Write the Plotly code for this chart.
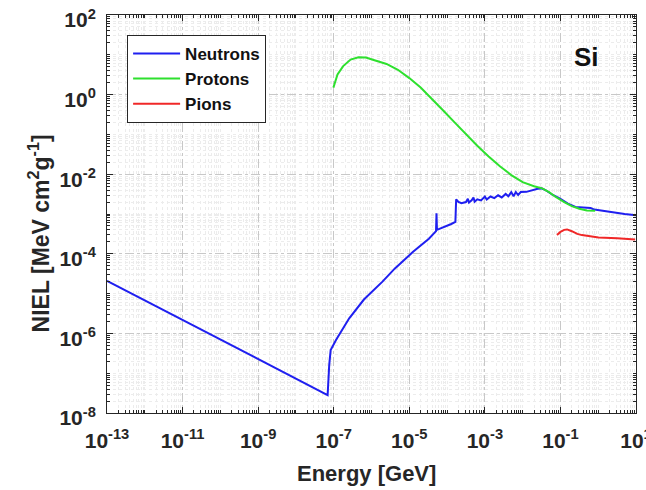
import plotly.graph_objects as go

# ---------------- data ----------------
neutron_E = [1e-13, 6.9e-8, 7.6e-8, 8.3e-8, 1.15e-7, 2.57e-7, 6.3e-7, 1.95e-6, 4.17e-6,
             1.26e-5, 3.3e-5, 5.1e-5, 5.25e-5, 5.4e-5, 1.29e-4, 1.66e-4, 1.74e-4, 2.0e-4,
             2.4e-4, 3.16e-4, 3.55e-4, 3.8e-4, 4.47e-4, 5.0e-4, 5.37e-4, 6.3e-4, 7.9e-4,
             1.0e-3, 1.12e-3, 1.41e-3, 1.78e-3, 2.24e-3, 2.8e-3, 3.55e-3, 4.2e-3, 5.0e-3,
             5.75e-3, 6.6e-3, 7.6e-3, 8.9e-3, 1.26e-2, 1.78e-2, 2.5e-2, 3.16e-2, 4.0e-2,
             6.3e-2, 0.1, 0.158, 0.25, 0.4, 0.63, 0.79, 2.0, 5.0, 10.0]
neutron_NIEL = [2.1e-5, 2.82e-8, 1.6e-7, 3.8e-7, 6.8e-7, 2.4e-6, 7.1e-6, 2.0e-5, 4.3e-5,
                1.12e-4, 2.4e-4, 3.7e-4, 1.05e-3, 4.0e-4, 5.6e-4, 6.3e-4, 2.34e-3, 2.0e-3,
                1.86e-3, 2.0e-3, 2.4e-3, 1.95e-3, 2.2e-3, 2.6e-3, 2.04e-3, 2.34e-3, 2.2e-3,
                2.75e-3, 2.3e-3, 2.75e-3, 2.5e-3, 2.95e-3, 2.6e-3, 3.2e-3, 2.8e-3, 3.55e-3,
                2.8e-3, 3.55e-3, 3.0e-3, 3.55e-3, 3.6e-3, 4.0e-3, 4.3e-3, 4.4e-3, 4.0e-3,
                3.0e-3, 2.4e-3, 1.82e-3, 1.5e-3, 1.45e-3, 1.41e-3, 1.29e-3, 1.12e-3, 1.0e-3, 9.3e-4]

proton_E = [9.8e-8, 1.26e-7, 1.78e-7, 2.8e-7, 4.5e-7, 7.1e-7, 1.26e-6, 2.5e-6, 5.0e-6,
            1e-5, 2.0e-5, 4.0e-5, 7.9e-5, 1.58e-4, 3.16e-4, 6.3e-4, 1.26e-3, 2.5e-3,
            5.0e-3, 1e-2, 2.0e-2, 3.3e-2, 5.0e-2, 7.9e-2, 0.126, 0.2, 0.316, 0.5, 0.83]
proton_NIEL = [1.5, 3.2, 5.2, 7.6, 8.7, 8.5, 7.2, 5.9, 4.2,
               2.6, 1.5, 0.79, 0.40, 0.20, 0.10, 0.052, 0.028, 0.0158,
               9.5e-3, 6.3e-3, 5.0e-3, 4.4e-3, 3.55e-3, 2.6e-3, 2.0e-3, 1.58e-3, 1.35e-3, 1.23e-3, 1.2e-3]

pion_E = [8.1e-2, 0.1, 0.126, 0.15, 0.2, 0.28, 0.37, 0.63, 1.02, 3.16, 9.5]
pion_NIEL = [2.95e-4, 3.55e-4, 4.0e-4, 4.1e-4, 3.7e-4, 3.16e-4, 2.95e-4, 2.75e-4, 2.57e-4, 2.45e-4, 2.3e-4]

x_ticks = [1e-13, 1e-11, 1e-9, 1e-7, 1e-5, 1e-3, 1e-1, 1e1]
x_labels = ["10<sup>-13</sup>", "10<sup>-11</sup>", "10<sup>-9</sup>", "10<sup>-7</sup>",
            "10<sup>-5</sup>", "10<sup>-3</sup>", "10<sup>-1</sup>", "10<sup>1</sup>"]
y_ticks = [1e-8, 1e-6, 1e-4, 1e-2, 1e0, 1e2]
y_labels = ["10<sup>-8</sup>", "10<sup>-6</sup>", "10<sup>-4</sup>", "10<sup>-2</sup>",
            "10<sup>0</sup>", "10<sup>2</sup>"]

# minor grid positions (2..9 in each decade plus odd decades)
x_minor = [k * 10.0 ** d for d in range(-13, 1) for k in range(1, 10)
           if not (k == 1 and (d + 13) % 2 == 0)]
y_minor = [k * 10.0 ** d for d in range(-8, 2) for k in range(1, 10)
           if not (k == 1 and (d + 8) % 2 == 0)]

FONT = "Liberation Sans, Arial, Helvetica, sans-serif"
TXT = "#262626"

fig = go.Figure()
fig.add_trace(go.Scatter(x=neutron_E, y=neutron_NIEL, mode="lines", name="Neutrons",
                         line=dict(color="#1f1ff0", width=2)))
fig.add_trace(go.Scatter(x=proton_E, y=proton_NIEL, mode="lines", name="Protons",
                         line=dict(color="#2ee02e", width=2)))
fig.add_trace(go.Scatter(x=pion_E, y=pion_NIEL, mode="lines", name="Pions",
                         line=dict(color="#f02828", width=2)))

axis_common = dict(
    showline=True, linecolor="#262626", linewidth=1, mirror="allticks",
    ticks="inside", ticklen=6, tickcolor="#262626",
    showgrid=True, gridcolor="#c8c8c8", griddash="dashdot", gridwidth=1,
    zeroline=False, automargin=False, ticklabeloverflow="allow",
    tickfont=dict(family=FONT, size=21, color=TXT, weight="bold"),
    minor=dict(tickmode="array", ticks="inside", ticklen=3, tickcolor="#262626",
               showgrid=True, gridcolor="#ececec", griddash="dot", gridwidth=1),
)

fig.update_xaxes(type="log", range=[-13, 1], tickmode="array", tickvals=x_ticks,
                 ticktext=x_labels, ticklabelstandoff=9, **axis_common)
fig.update_xaxes(minor_tickvals=x_minor)
fig.update_yaxes(type="log", range=[-8, 2], tickmode="array", tickvals=y_ticks,
                 ticktext=y_labels, ticklabelstandoff=6, ticklabelshift=5, **axis_common)
fig.update_yaxes(minor_tickvals=y_minor)

fig.add_annotation(x=0.491, y=-0.151, xref="paper", yref="paper", text="Energy [GeV]",
                   showarrow=False, xanchor="center", yanchor="middle",
                   font=dict(family=FONT, size=22, color=TXT, weight="bold"))
fig.add_annotation(x=-0.128, y=0.452, xref="paper", yref="paper",
                   text="NIEL [MeV cm<sup>2</sup>g<sup>-1</sup>]", textangle=-90,
                   showarrow=False, xanchor="center", yanchor="middle",
                   font=dict(family=FONT, size=23, color=TXT, weight="bold"))
fig.add_annotation(x=0.907, y=0.894, xref="paper", yref="paper", text="Si", showarrow=False,
                   xanchor="center", yanchor="middle",
                   font=dict(family=FONT, size=26, color="#111", weight="bold"))

fig.update_layout(
    width=646, height=490,
    margin=dict(l=107, r=10, t=15, b=77, autoexpand=False),
    paper_bgcolor="white", plot_bgcolor="white",
    showlegend=True,
    legend=dict(x=0.038, y=0.95, xanchor="left", yanchor="top",
                bgcolor="white", bordercolor="#262626", borderwidth=1,
                font=dict(family=FONT, size=17, color="#111", weight="bold"),
                itemwidth=47, tracegroupgap=0),
)

fig.write_html("out.html")
